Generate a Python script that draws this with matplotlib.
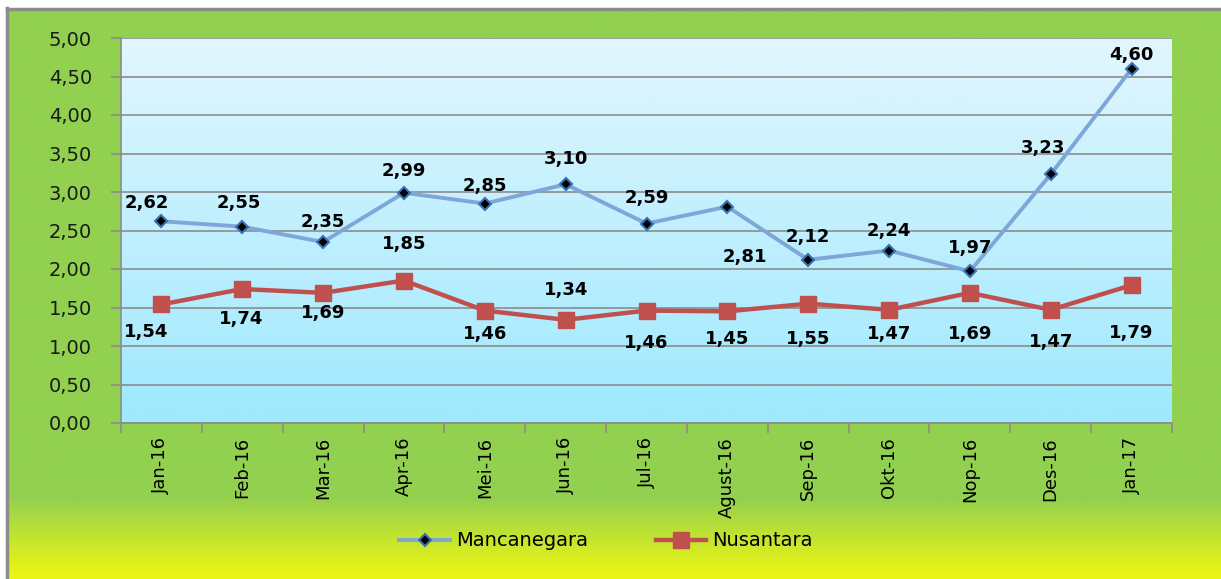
import numpy as np
import matplotlib
matplotlib.use("Agg")
import matplotlib.pyplot as plt
from matplotlib.lines import Line2D

months = ["Jan-16", "Feb-16", "Mar-16", "Apr-16", "Mei-16", "Jun-16", "Jul-16",
          "Agust-16", "Sep-16", "Okt-16", "Nop-16", "Des-16", "Jan-17"]
mancanegara = [2.62, 2.55, 2.35, 2.99, 2.85, 3.10, 2.59, 2.81, 2.12, 2.24, 1.97, 3.23, 4.60]
nusantara = [1.54, 1.74, 1.69, 1.85, 1.46, 1.34, 1.46, 1.45, 1.55, 1.47, 1.69, 1.47, 1.79]
yticks = [0, 0.5, 1, 1.5, 2, 2.5, 3, 3.5, 4, 4.5, 5]

# label offsets in pixels (dx, dy)
man_off = [(-15, 18), (-3, 24), (0, 20), (0, 22), (0, 18), (0, 25), (0, 26),
           (18, -50), (0, 23), (0, 20), (0, 23), (-8, 26), (0, 14)]
nus_off = [(-15, -28), (-1, -30), (0, -20), (0, 37), (0, -23), (0, 30), (0, -32),
           (0, -28), (0, -35), (0, -24), (0, -41), (0, -32), (0, -48)]

W, H = 1221, 579
fig = plt.figure(figsize=(W / 100, H / 100), dpi=100)
fig.patch.set_facecolor("white")

# outer green background with yellow bottom
bg = fig.add_axes([7 / W, -0.01, 1 - 7 / W + 0.02, (H - 8) / H + 0.01])
bg.set_axis_off()
n = 300
yy = np.linspace(0, 1, n)  # 0 bottom -> 1 top
green = np.array([146, 208, 80]) / 255
yellow = np.array([238, 247, 18]) / 255
t = np.clip((yy - 0) / (0.15), 0, 1)
t = t ** 1.2
cols = (yellow[None, :] * (1 - t[:, None]) + green[None, :] * t[:, None])
img = cols[::-1][:, None, :]
bg.imshow(img, aspect="auto", extent=[0, 1, 0, 1], origin="upper")
bg.set_xlim(0, 1)
bg.set_ylim(0, 1)
fig.add_artist(Line2D([7.5 / W, 7.5 / W], [0, 1 - 8 / H], color="#8c8c8c", lw=2.5))
fig.add_artist(Line2D([7.5 / W, 1], [1 - 8.5 / H, 1 - 8.5 / H], color="#8c8c8c", lw=2.5))

ax = fig.add_axes([121 / W, 1 - 423 / H, 1051 / W, 385 / H])
# plot area gradient
top = np.array([226, 246, 254]) / 255
bot = np.array([158, 233, 254]) / 255
g = np.linspace(0, 1, 200)[:, None]
grad = top[None, :] * (1 - g) + bot[None, :] * g
ax.imshow(grad[:, None, :], aspect="auto", extent=[0, 1, 0, 1],
          transform=ax.transAxes, zorder=0, origin="upper")

x = np.arange(len(months))
ax.set_xlim(-0.5, len(months) - 0.5)
ax.set_ylim(0, 5)
ax.set_yticks(yticks)
ax.set_yticklabels([f"{v:.2f}".replace(".", ",") for v in yticks],
                   fontsize=14, color="#1a1a1a")
ax.yaxis.grid(True, color="#8c8c8c", lw=1.2, zorder=1)
ax.set_axisbelow(True)
ax.set_xticks(x)
ax.set_xticklabels(months, rotation=90, fontsize=13)
ax.set_xticks(np.arange(-0.5, len(months), 1), minor=True)
ax.tick_params(axis="x", which="major", length=0, pad=10)
ax.tick_params(axis="x", which="minor", length=7, color="#8c8c8c", width=1.2)
ax.tick_params(axis="y", length=7, color="#8c8c8c", width=1.2, pad=14)
for s in ["top", "right"]:
    ax.spines[s].set_visible(False)
for s in ["left", "bottom"]:
    ax.spines[s].set_color("#8c8c8c")
    ax.spines[s].set_linewidth(1.2)

ax.plot(x, mancanegara, color="#7ea6d8", lw=2.8, marker="D", markersize=6.5,
        markerfacecolor="black", markeredgecolor="#3c6fb4", markeredgewidth=1.5,
        label="Mancanegara", zorder=4)
ax.plot(x, nusantara, color="#c0504d", lw=3.2, marker="s", markersize=11.5,
        markerfacecolor="#c0504d", markeredgecolor="#c0504d",
        label="Nusantara", zorder=3)

for xi, v, (dx, dy) in zip(x, mancanegara, man_off):
    ax.annotate(f"{v:.2f}".replace(".", ","), (xi, v), xytext=(dx, dy),
                textcoords="offset pixels", ha="center", va="center",
                fontsize=13, fontweight="bold", color="black", zorder=6)
for xi, v, (dx, dy) in zip(x, nusantara, nus_off):
    ax.annotate(f"{v:.2f}".replace(".", ","), (xi, v), xytext=(dx, dy),
                textcoords="offset pixels", ha="center", va="center",
                fontsize=13, fontweight="bold", color="black", zorder=6)

fig.legend(loc="center", bbox_to_anchor=(606 / W, 1 - 541 / H), ncol=2,
           frameon=False, fontsize=14, handlelength=2.6, columnspacing=3.5,
           handletextpad=0.3)

fig.savefig("out.png", dpi=100)
